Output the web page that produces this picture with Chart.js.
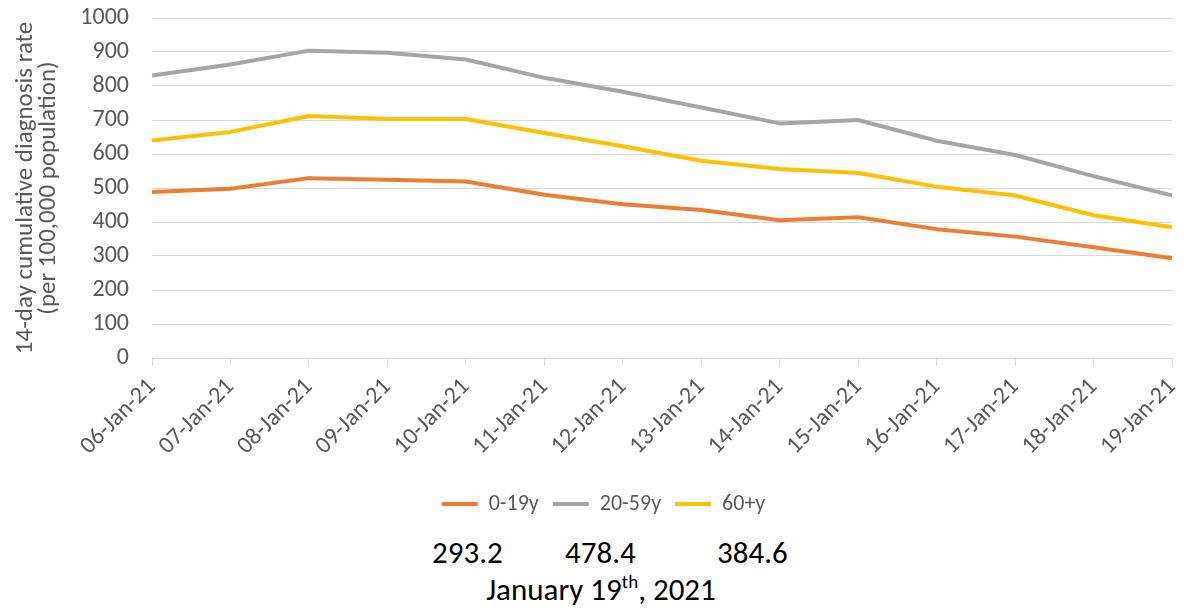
<!DOCTYPE html>
<html>
<head>
<meta charset="utf-8">
<script src="https://cdn.jsdelivr.net/npm/chart.js@4/dist/chart.umd.min.js"></script>
<style>
  html, body { margin: 0; padding: 0; background: #fff; }
  #wrap { position: relative; width: 1184px; height: 612px; overflow: hidden; font-family: Carlito, Lato, sans-serif; }
  #cv { position: absolute; left: 0; top: 0; }
  .val { position: absolute; top: 535px; font-size: 31px; line-height: 34px; color: #000; white-space: nowrap; }
  #date { position: absolute; top: 572px; left: 0; width: 1202px; text-align: center; font-size: 31px; line-height: 34px; color: #000; white-space: nowrap; }
  #date sup { font-size: 19px; vertical-align: 0; position: relative; top: -12px; }
</style>
</head>
<body>
<div id="wrap">
  <canvas id="cv" width="1184" height="527"></canvas>
  <div class="val" style="left:432px">293.2</div>
  <div class="val" style="left:565px">478.4</div>
  <div class="val" style="left:717px">384.6</div>
  <div id="date">January 19<sup>th</sup>, 2021</div>
</div>
<script>
const categories = ['06-Jan-21','07-Jan-21','08-Jan-21','09-Jan-21','10-Jan-21','11-Jan-21','12-Jan-21','13-Jan-21','14-Jan-21','15-Jan-21','16-Jan-21','17-Jan-21','18-Jan-21','19-Jan-21'];
const age0to19 = [488, 498, 529, 524, 519, 480, 452, 435, 405, 414, 379, 357, 326, 293.2];
const age20to59 = [831, 863, 904, 898, 878, 824, 783, 737, 690, 700, 639, 597, 535, 478.4];
const age60plus = [640, 665, 712, 703, 703, 662, 623, 580, 556, 544, 504, 478, 420, 384.6];
const seriesNames = ['0-19y', '20-59y', '60+y'];
const yTitle = ['14-day cumulative diagnosis rate', '(per 100,000 population)'];

const FONT = 'Carlito, Lato, sans-serif';
const GREY_TXT = '#595959';
const GRID = '#d9d9d9';

function ds(label, data, color) {
  return { label, data, borderColor: color, backgroundColor: color, borderWidth: 4,
           pointRadius: 0, pointHoverRadius: 0, tension: 0, fill: false, borderJoinStyle: 'round' };
}

new Chart(document.getElementById('cv'), {
  type: 'line',
  data: {
    labels: categories,
    datasets: [
      ds(seriesNames[0], age0to19, '#ED7D31'),
      ds(seriesNames[1], age20to59, '#A5A5A5'),
      ds(seriesNames[2], age60plus, '#FFC000')
    ]
  },
  options: {
    responsive: false,
    animation: false,
    events: [],
    layout: { padding: { left: 23, right: 0, top: 18, bottom: 2 } },
    plugins: {
      tooltip: { enabled: false },
      legend: {
        position: 'bottom',
        labels: {
          usePointStyle: true,
          pointStyle: 'line',
          pointStyleWidth: 36,
          boxHeight: 22,
          padding: 14,
          color: GREY_TXT,
          font: { family: FONT, size: 22 }
        }
      }
    },
    scales: {
      x: {
        offset: false,
        grid: { display: true, drawOnChartArea: false, drawTicks: true, tickLength: 7, color: GRID, lineWidth: 1 },
        border: { display: true, color: GRID, width: 1 },
        ticks: { color: GREY_TXT, font: { family: FONT, size: 24 }, minRotation: 45, maxRotation: 45, autoSkip: false, padding: 8 },
        afterFit(scale) { scale.height = 121; scale.paddingRight = 12; scale.paddingLeft = 0; }
      },
      y: {
        min: 0, max: 1000,
        grid: { color: GRID, lineWidth: 1, drawTicks: false },
        border: { display: false },
        ticks: { stepSize: 100, color: GREY_TXT, font: { family: FONT, size: 24 }, padding: 23,
                 callback: (v) => String(v) },
        title: { display: true, text: yTitle, color: GREY_TXT, font: { family: FONT, size: 25, lineHeight: 0.92 }, padding: { top: -9, bottom: 0 } },
        afterFit(scale) { scale.width = 129; scale.paddingTop = 0; scale.paddingBottom = 0; }
      }
    }
  }
});
</script>
</body>
</html>
